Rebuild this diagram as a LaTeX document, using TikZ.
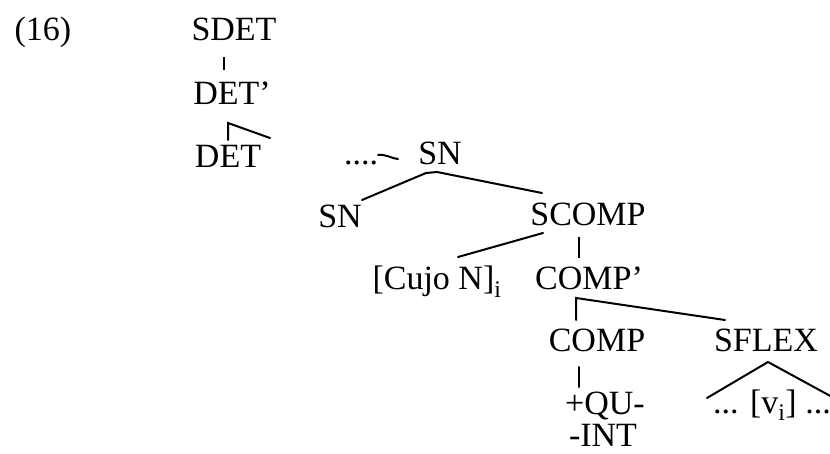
\documentclass[tikz,border=0pt]{standalone}
\usepackage{fontspec}
\setmainfont{Liberation Serif}
\begin{document}
\begin{tikzpicture}[x=1pt,y=-1pt,
  lbl/.style={anchor=base,inner sep=0pt,font=\fontsize{34}{40}\selectfont},
  branch/.style={line width=2pt,line cap=round},
  thin/.style={line width=1.3pt}]
\useasboundingbox (0,0) rectangle (830,454);
% example number
\node[lbl] (num) at (43,41) {(16)};
% determiner projection
\node[lbl] (sdet) at (234,41) {SDET};
\node[lbl] (detbar) at (232,105) {DET'};
\node[lbl] (det) at (228,168) {DET};
% noun phrase with relative clause
\node[lbl] (dots) at (361,165) {....};
\node[lbl] (sntop) at (440,165) {SN};
\node[lbl] (snleft) at (340,228) {SN};
\node[lbl] (scomp) at (588,226) {SCOMP};
\node[lbl] (cujo) at (437,290) {[Cujo N]\textsubscript{i}};
\node[lbl] (compbar) at (589,290) {COMP'};
\node[lbl] (comp) at (597,352) {COMP};
\node[lbl] (sflex) at (766,352) {SFLEX};
\node[lbl] (qu) at (605,414) {+QU-};
\node[lbl] (int) at (603,446) {-INT};
\node[lbl] (vi) at (772,413) {... [v\textsubscript{i}] ...};
% branch end points
\coordinate (a1) at (224,57);   \coordinate (a2) at (224,70);
\coordinate (b0) at (228,140);  \coordinate (b1) at (228,123);  \coordinate (b2) at (270,138);
\coordinate (c1) at (378,155);  \coordinate (c2) at (398,159);
\coordinate (d1) at (426,173);  \coordinate (d2) at (437,172);
\coordinate (d3) at (362,200);  \coordinate (d4) at (542,193);
\coordinate (e1) at (543,233);  \coordinate (e2) at (458,257);
\coordinate (f1) at (579,237);  \coordinate (f2) at (579,258);
\coordinate (g0) at (576,320);  \coordinate (g1) at (576,298);  \coordinate (g2) at (725,320);
\coordinate (h1) at (579,367);  \coordinate (h2) at (579,387);
\coordinate (t1) at (707,398);  \coordinate (t2) at (768,362);  \coordinate (t3) at (834,398);
% branches
\draw[thin] (a1) -- (a2);
\draw[branch] (b0) -- (b1) -- (b2);
\draw[branch] (c1) .. controls (386,154) and (390,158) .. (c2);
\draw[branch] (d3) -- (d1) -- (d2) -- (d4);
\draw[branch] (e1) -- (e2);
\draw[thin] (f1) -- (f2);
\draw[branch] (g0) -- (g1) -- (g2);
\draw[branch] (h1) -- (h2);
\draw[branch] (t1) -- (t2) -- (t3);
\end{tikzpicture}
\end{document}
